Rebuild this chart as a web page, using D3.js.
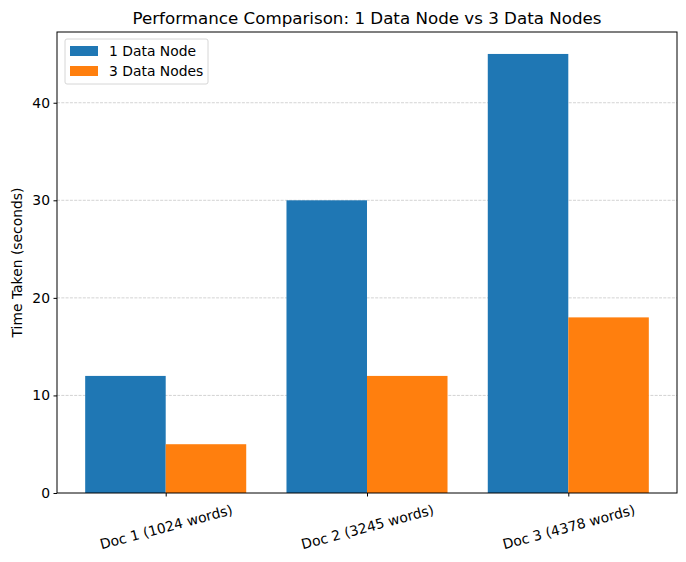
<!DOCTYPE html>
<meta charset="utf-8">
<style>
 body { margin: 0; background: #fff; }
 text { font-family: 'DejaVu Sans', sans-serif; fill: #000; }
 .axis path, .axis line { stroke: #000; }
 .grid line { stroke: #b0b0b0; stroke-opacity: 0.7; stroke-dasharray: 3,1.3; }
</style>
<body>
<script src="https://cdn.jsdelivr.net/npm/d3@7"></script>
<script>
 var categories = ["Doc 1 (1024 words)", "Doc 2 (3245 words)", "Doc 3 (4378 words)"];
 var seriesNames = ["1 Data Node", "3 Data Nodes"];
 var oneNode = [12, 30, 45];
 var threeNodes = [5, 12, 18];
 var yTicks = [0, 10, 20, 30, 40];
 var colors = ["#1f77b4", "#ff7f0e"];

 var W = 686, H = 562;
 var margin = {top: 32, right: 9, bottom: 69, left: 57},
     width = W - margin.left - margin.right,
     height = H - margin.top - margin.bottom;

 var barW = 0.4;
 var xScale = d3.scaleLinear().domain([-0.54, 2.54]).range([0, width]);
 var yScale = d3.scaleLinear().domain([0, 47.25]).range([height, 0]);

 var svg = d3.select("body").append("svg")
     .attr("width", W).attr("height", H)
   .append("g")
     .attr("transform", "translate(" + margin.left + "," + margin.top + ")");

 // grid
 svg.append("g").attr("class", "grid")
    .selectAll("line").data(yTicks.filter(d => d > 0)).enter().append("line")
    .attr("x1", 0).attr("x2", width)
    .attr("y1", d => yScale(d)).attr("y2", d => yScale(d))
    .attr("stroke-width", 0.8);

 var series = [oneNode, threeNodes];
 series.forEach(function(vals, s) {
     svg.append("g").selectAll("rect").data(vals).enter().append("rect")
        .attr("x", (d, i) => xScale(i + (s === 0 ? -barW : 0)))
        .attr("width", xScale(barW) - xScale(0))
        .attr("y", d => yScale(d))
        .attr("height", d => yScale(0) - yScale(d))
        .attr("fill", colors[s]);
 });

 // axes
 var yAxis = d3.axisLeft(yScale).tickValues(yTicks).tickSize(3.5).tickPadding(3.5);
 var gY = svg.append("g").attr("class", "axis").call(yAxis);
 gY.selectAll("text").attr("font-size", "13.9px").attr("font-family", "'DejaVu Sans', sans-serif");
 gY.select(".domain").remove();

 var xAxis = d3.axisBottom(xScale).tickValues([0, 1, 2]).tickFormat(i => categories[i]).tickSize(3.5);
 var gX = svg.append("g").attr("class", "axis")
     .attr("transform", "translate(0," + height + ")").call(xAxis);
 gX.select(".domain").remove();
 gX.selectAll("text")
   .attr("font-size", "13.9px").attr("font-family", "'DejaVu Sans', sans-serif")
   .attr("y", 0).attr("dy", "0.35em")
   .attr("transform", "translate(0,34) rotate(-15)");

 // frame
 svg.append("rect").attr("width", width).attr("height", height)
    .attr("fill", "none").attr("stroke", "#000").attr("stroke-width", 1);

 // title
 svg.append("text").attr("x", width / 2).attr("y", -8)
    .attr("text-anchor", "middle").attr("font-size", "16.7px")
    .text("Performance Comparison: 1 Data Node vs 3 Data Nodes");

 // y label
 svg.append("text").attr("transform", "rotate(-90)")
    .attr("x", -height / 2).attr("y", -35)
    .attr("text-anchor", "middle").attr("font-size", "13.9px")
    .text("Time Taken (seconds)");

 // legend
 var lg = svg.append("g").attr("transform", "translate(8,7)");
 lg.append("rect").attr("width", 143).attr("height", 45).attr("rx", 2)
   .attr("fill", "#fff").attr("fill-opacity", 0.8).attr("stroke", "#d6d6d6");
 seriesNames.forEach(function(name, i) {
     lg.append("rect").attr("x", 5).attr("y", 7 + i * 20).attr("width", 28).attr("height", 10)
       .attr("fill", colors[i]);
     lg.append("text").attr("x", 44).attr("y", 12 + i * 20).attr("dy", "0.35em")
       .attr("font-size", "13.9px").text(name);
 });
</script>
</body>
